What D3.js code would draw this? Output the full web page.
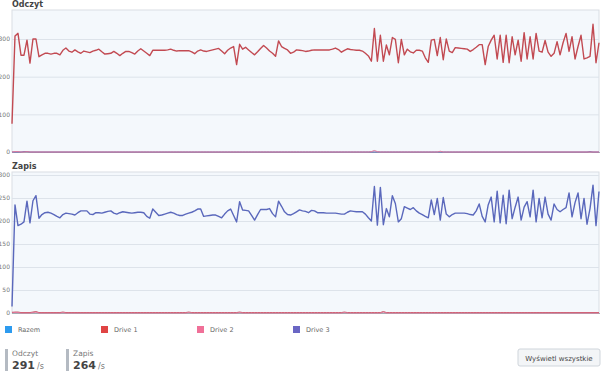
<!DOCTYPE html>
<html>
<head>
<meta charset="utf-8">
<script src="https://cdn.jsdelivr.net/npm/d3@7"></script>
<style>
	body {margin:0; background:#fff;}
	text {font-family:"DejaVu Sans", Verdana, sans-serif;}
</style>
</head>
<body>
<div id="body"></div>
<script>
// legend / series names and colours
const seriesNames = ["Razem", "Drive 1", "Drive 2", "Drive 3"];
const seriesColors = ["#2d9bef", "#e04444", "#f07098", "#6a66c4"];
const lineColors = {"Drive 1": "#c24a52", "Drive 2": "#e0789a", "Drive 3": "#5a68bc"};

// Odczyt (read) per drive
const readDrive1 = [
	75,308,315,257,257,297,236,300,300,253,
	258,262,262,260,262,262,258,270,276,268,
	265,271,266,262,268,266,264,268,270,273,
	266,260,261,262,267,262,256,262,267,267,
	264,260,268,274,268,262,256,270,270,270,
	270,270,271,273,270,268,269,269,269,269,
	266,261,268,271,268,267,269,271,273,275,
	268,261,270,276,280,232,286,273,278,271,
	264,258,266,275,283,276,268,262,254,295,
	280,275,271,262,265,271,270,269,267,268,
	270,271,271,271,271,271,271,273,276,272,
	265,270,274,272,271,270,270,268,262,255,
	241,328,241,310,241,284,258,304,299,237,
	299,258,273,266,263,270,270,268,250,238,
	297,299,256,304,245,300,268,264,277,276,
	275,274,273,267,272,278,285,285,232,280,
	297,310,247,310,238,310,237,306,258,297,
	241,317,247,306,247,315,268,265,296,265,
	254,262,293,258,290,315,267,306,247,280,
	310,247,250,254,339,237,290
];
const readDrive2 = [
	0,1,1,0,0,1,0,0,0,0,0,0,0,0,0,0,0,0,0,0,
	0,0,0,0,0,0,0,0,0,0,0,0,0,0,0,0,0,0,0,0,
	0,0,0,0,0,0,0,0,0,0,0,0,0,0,0,0,0,0,0,0,
	0,0,0,0,0,0,0,0,0,0,0,0,0,0,0,0,0,0,0,0,
	0,0,0,0,0,0,0,0,0,0,0,0,0,0,0,0,0,0,0,0,
	0,0,0,0,0,0,0,0,0,0,0,0,0,0,0,0,0,0,0,0,
	1,4,1,0,0,0,0,0,0,0,0,0,0,0,0,0,0,0,0,0,
	0,0,0,2,0,0,0,0,0,0,0,0,0,0,0,0,0,0,0,0,
	0,0,0,0,0,0,0,0,0,0,0,0,0,0,0,0,0,0,0,0,
	0,0,0,0,0,0,0,0,0,0,0,0,0,0,0,0,0
];
const readDrive3 = [
	0,0,0,0,1,1,0,0,0,0,0,0,0,0,0,0,0,0,0,0,
	0,0,0,0,0,0,0,0,0,0,0,0,0,0,0,0,0,0,0,0,
	0,0,0,0,0,0,0,0,0,0,0,0,0,0,0,0,0,0,0,0,
	0,0,0,0,0,0,0,0,0,0,0,0,0,0,0,0,0,0,0,0,
	0,0,0,0,0,0,0,0,0,0,0,0,0,0,0,0,0,0,0,0,
	0,0,0,0,0,0,0,0,0,0,0,0,0,0,0,0,0,0,0,0,
	0,0,0,0,0,0,0,0,0,0,0,0,0,0,0,0,0,0,0,0,
	0,0,0,0,0,0,0,0,0,0,0,0,0,0,0,0,0,0,0,0,
	0,0,0,0,0,0,0,0,0,0,0,0,0,0,0,0,0,0,0,0,
	0,0,0,0,0,0,0,0,0,0,0,0,0,1,0,0,0
];

// Zapis (write) per drive
const writeDrive1 = [
	1,2,2,1,1,1,1,2,3,1,1,1,1,1,1,1,1,2,1,1,
	1,1,1,1,1,1,1,1,1,1,1,1,1,1,1,1,1,1,1,1,
	1,1,1,1,1,1,1,1,1,1,1,1,1,1,1,1,1,1,1,2,
	1,1,1,1,1,1,1,1,1,1,1,1,1,1,1,1,2,1,1,1,
	1,1,1,1,1,1,1,1,1,1,1,1,1,1,1,1,1,1,1,1,
	1,1,1,1,1,1,1,1,1,1,1,2,1,1,1,1,1,1,1,1,
	1,1,1,1,3,1,1,1,1,1,1,1,1,1,1,1,1,1,1,1,
	1,1,1,1,1,1,1,1,1,1,1,1,1,1,1,1,1,1,1,1,
	1,1,1,1,1,1,1,1,1,1,1,1,1,1,1,1,1,1,1,1,
	1,1,1,1,1,1,1,1,1,1,1,1,1,1,1,1,1
];
const writeDrive2 = [
	2,1,1,0,0,0,0,1,2,0,0,0,0,0,0,0,0,1,0,0,
	0,0,0,0,0,0,0,0,0,0,0,0,0,0,0,0,0,0,0,0,
	0,0,0,0,0,0,0,0,0,0,0,0,0,0,0,0,0,0,0,1,
	0,0,0,0,0,0,0,0,0,0,0,0,0,0,0,0,1,0,0,0,
	0,0,0,0,0,0,0,0,0,0,0,0,0,0,0,0,0,0,0,0,
	0,0,0,0,0,0,0,0,0,0,0,1,0,0,0,0,0,0,0,0,
	0,0,0,0,2,0,0,0,0,0,0,0,0,0,0,0,0,0,0,0,
	0,0,0,0,0,0,0,0,0,0,0,0,0,0,0,0,0,0,0,0,
	0,0,0,0,0,0,0,0,0,0,0,0,0,0,0,0,0,0,0,0,
	0,0,0,0,0,0,0,0,0,0,0,0,0,0,0,0,0
];
const writeDrive3 = [
	14,235,190,193,198,243,196,244,255,206,
	214,218,219,217,214,210,207,214,217,216,
	215,213,218,222,222,222,215,214,218,218,
	217,219,221,222,217,215,218,220,219,218,
	217,218,219,219,218,210,206,226,219,212,
	213,215,217,219,217,214,212,212,215,217,
	219,222,226,226,210,211,212,213,213,210,
	207,215,222,226,212,198,242,224,223,222,
	212,202,214,225,225,225,227,216,209,243,
	232,220,214,213,216,220,224,222,221,218,
	223,222,218,218,218,217,217,217,217,216,
	215,215,219,222,221,220,220,220,215,207,
	200,275,191,273,192,227,209,255,238,198,
	205,231,228,225,229,222,217,214,210,207,
	246,214,249,202,251,215,209,214,217,217,
	217,217,216,214,213,222,237,210,198,235,
	252,198,265,196,256,194,267,205,230,252,
	202,230,242,209,267,198,249,207,252,215,
	202,237,225,220,225,229,261,209,240,261,
	205,249,193,227,278,190,264
];

const readTicks = [0, 100, 200, 300];
const writeTicks = [0, 50, 100, 150, 200, 250, 300];
const statLabels = ["Odczyt", "Zapis"];
const statValues = [291, 264];

var width = 605, height = 374;
var plotLeft = 12, plotRight = 599;

var svg = d3.select("#body").append("svg")
		.attr("width", width).attr("height", height);

var x = d3.scaleLinear().domain([0, readDrive1.length - 1]).range([plotLeft, plotRight]);

function drawPanel(title, top, bottom, yMax, ticks, series){
	var y = d3.scaleLinear().domain([0, yMax]).range([bottom, top]);
	var g = svg.append("g");
	g.append("text").attr("x", plotLeft).attr("y", top - 3)
		.attr("font-size", 8).attr("font-weight", "bold").attr("fill", "#444").text(title);
	g.append("rect").attr("x", plotLeft).attr("y", top)
		.attr("width", plotRight - plotLeft).attr("height", bottom - top)
		.attr("fill", "#f4f8fc").attr("stroke", "#d9dee4").attr("stroke-width", 1);
	// grid + labels
	var axis = g.append("g").attr("transform", "translate(" + plotLeft + ",0)")
		.call(d3.axisLeft(y).tickValues(ticks).tickSize(-(plotRight - plotLeft)).tickPadding(2));
	axis.select(".domain").remove();
	axis.selectAll(".tick line").attr("stroke", "#dde3ea");
	axis.selectAll(".tick text").attr("fill", "#777").attr("font-size", 6)
		.attr("font-family", "'DejaVu Sans', sans-serif");
	g.append("line").attr("x1", plotLeft).attr("x2", plotRight + 1)
		.attr("y1", bottom + 0.5).attr("y2", bottom + 0.5)
		.attr("stroke", "#a4acb4").attr("stroke-width", 1);
	var line = d3.line().x(function(d, i){return x(i);}).y(function(d){return y(d);});
	series.forEach(function(s){
		g.append("path").attr("d", line(s.values))
			.attr("fill", "none").attr("stroke", lineColors[s.name])
			.attr("stroke-width", s.width).attr("stroke-linejoin", "round");
	});
}

drawPanel("Odczyt", 10, 152, 377, readTicks, [
	{name: "Drive 3", values: readDrive3, width: 1},
	{name: "Drive 2", values: readDrive2, width: 1},
	{name: "Drive 1", values: readDrive1, width: 1.4}
]);
drawPanel("Zapis", 172, 313, 306.5, writeTicks, [
	{name: "Drive 1", values: writeDrive1, width: 1},
	{name: "Drive 2", values: writeDrive2, width: 1},
	{name: "Drive 3", values: writeDrive3, width: 1.4}
]);

// legend
var legend = svg.append("g").selectAll("g").data(seriesNames).enter().append("g")
		.attr("transform", function(d, i){return "translate(" + (5 + i * 96) + ",326)";});
legend.append("rect").attr("width", 7).attr("height", 7)
		.attr("fill", function(d, i){return seriesColors[i];});
legend.append("text").attr("x", 13).attr("y", 6).attr("font-size", 6.5)
		.attr("fill", "#666").text(function(d){return d;});

// stats
var stats = svg.append("g").selectAll("g").data(statLabels).enter().append("g")
		.attr("transform", function(d, i){return "translate(" + (5 + i * 61) + ",349)";});
stats.append("rect").attr("width", 3).attr("height", 22).attr("fill", "#b4bac2");
stats.append("text").attr("x", 7).attr("y", 7).attr("font-size", 7.5)
		.attr("fill", "#777").text(function(d){return d;});
stats.append("text").attr("x", 7).attr("y", 20).attr("font-size", 11)
		.attr("font-weight", "bold").attr("fill", "#444")
		.text(function(d, i){return statValues[i];});
stats.append("text").attr("x", 32).attr("y", 20).attr("font-size", 8)
		.attr("fill", "#777").text("/s");

// button
var btn = svg.append("g").attr("transform", "translate(518,349)");
btn.append("rect").attr("width", 82).attr("height", 17).attr("rx", 2)
		.attr("fill", "#f3f5f7").attr("stroke", "#cfd5db");
btn.append("text").attr("x", 41).attr("y", 11.5).attr("text-anchor", "middle")
		.attr("font-size", 7).attr("fill", "#444").text("Wyświetl wszystkie");
</script>
</body>
</html>
